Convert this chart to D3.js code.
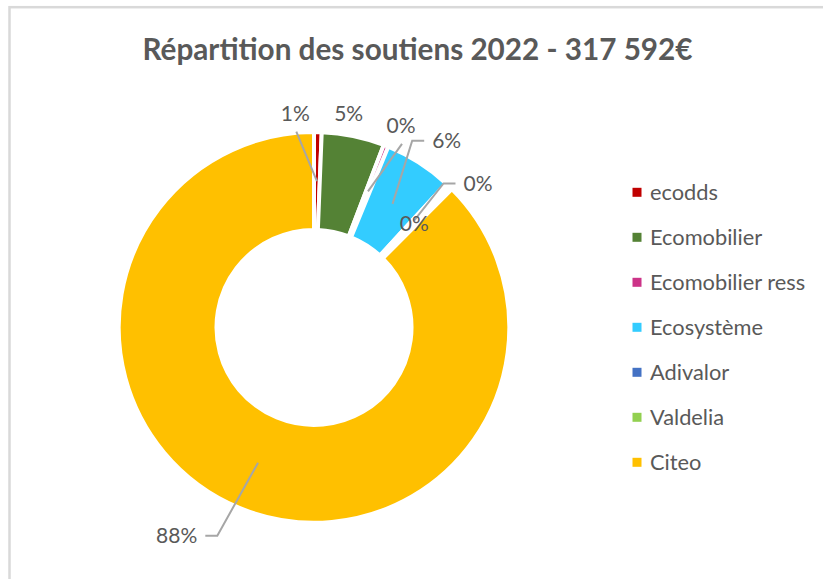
<!DOCTYPE html>
<html>
<head>
<meta charset="utf-8">
<script src="https://cdn.jsdelivr.net/npm/d3@7"></script>
<style>
html,body{margin:0;padding:0;background:#fff;}
svg{display:block;}
text{font-family:Lato,"Open Sans",sans-serif;}
</style>
</head>
<body>
<svg id="chart" width="823" height="579"></svg>
<script>
// ---- data ----
const titleText = "Répartition des soutiens 2022 - 317 592€";
const categories = ["ecodds", "Ecomobilier", "Ecomobilier ress", "Ecosystème", "Adivalor", "Valdelia", "Citeo"];
const values = [2000, 16450, 1270, 17800, 1050, 1050, 277972]; // € (total 317 592)
const colors = ["#C00000", "#548235", "#CC3388", "#33CCFF", "#4472C4", "#92D050", "#FFC000"];

// ---- layout (label placement relative to donut centre) ----
const labelOffsets = [[-18.7,-213.7],[34.7,-213.7],[87,-201.6],[132.7,-186.6],[164,-143.9],[100.3,-103.9],[-137.3,208.3]];
const leaderKinds = ["straight","none","straight","elbow","elbow","none","elbow"];

const svg = d3.select("#chart");
const W = 823, H = 579;
svg.append("rect").attr("x",0).attr("y",0).attr("width",W).attr("height",H).attr("fill","#fff");
svg.append("rect").attr("x",9.5).attr("y",7.2).attr("width",W+50).attr("height",H+50)
  .attr("fill","none").attr("stroke","#d9d9d9").attr("stroke-width",2.5);

svg.append("text").attr("x",417.5).attr("y",59.5).attr("text-anchor","middle")
  .attr("font-size",29.7).attr("font-weight","bold").attr("fill","#595959").text(titleText);

const cx = 314, cy = 327.4;
const g = svg.append("g").attr("transform",`translate(${cx},${cy})`);
const pie = d3.pie().sort(null).value(d=>d)(values);
const arc = d3.arc().innerRadius(97.5).outerRadius(195.3);
g.selectAll("path.slice").data(pie).join("path").attr("class","slice")
  .attr("d",arc).attr("fill",(d,i)=>colors[i]).attr("stroke","#fff").attr("stroke-width",4);

const total = d3.sum(values);
const fmt = v => Math.round(v/total*100) + "%";

// labels
const labels = g.selectAll("text.lbl").data(pie).join("text").attr("class","lbl")
  .attr("x",(d,i)=>labelOffsets[i][0]).attr("y",(d,i)=>labelOffsets[i][1])
  .attr("dy","0.35em").attr("text-anchor","middle")
  .attr("font-size",21).attr("fill","#595959").text(d=>fmt(d.data));

// leader lines
labels.each(function(d,i){
  const kind = leaderKinds[i];
  if(kind==="none") return;
  const [lx,ly] = labelOffsets[i];
  const c = arc.centroid(d);
  const bw = this.getBBox().width;
  let pts;
  if(kind==="straight"){
    pts = [[lx+1, ly+18], c];
  } else {
    const side = lx > c[0] ? -1 : 1;
    const sx = lx + side*(bw/2 + 8);
    pts = [[sx, ly], [sx + side*12, ly], c];
  }
  g.insert("path","text.lbl").attr("d",d3.line()(pts)).attr("fill","none")
    .attr("stroke","#a6a6a6").attr("stroke-width",2);
});

// legend
const legend = svg.append("g");
const rows = legend.selectAll("g").data(categories).join("g")
  .attr("transform",(d,i)=>`translate(632.5,${192.3 + i*45})`);
rows.append("rect").attr("x",0).attr("y",-4.5).attr("width",9).attr("height",9).attr("fill",(d,i)=>colors[i]);
rows.append("text").attr("x",17.5).attr("y",0).attr("dy","0.35em").attr("font-size",21.8).attr("fill","#595959").text(d=>d);
</script>
</body>
</html>
